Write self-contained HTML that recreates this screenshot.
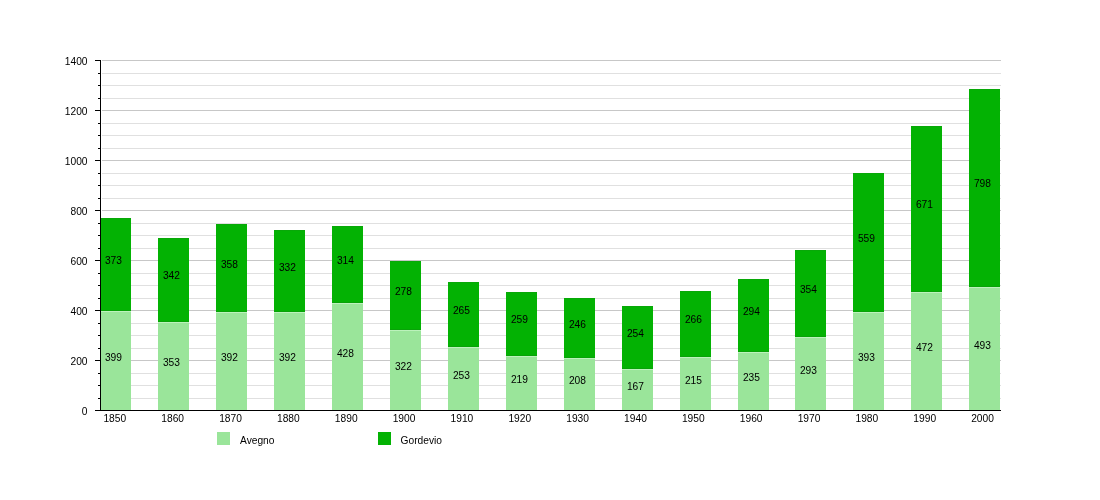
<!DOCTYPE html><html><head><meta charset="utf-8"><title>Avegno Gordevio</title><style>html,body{margin:0;padding:0;background:#fff}svg{display:block}text{font-family:"Liberation Sans",Arial,Helvetica,sans-serif;font-size:11px;fill:#000}</style></head><body>
<svg width="1100" height="500" viewBox="0 0 1100 500">
<rect width="1100" height="500" fill="#fff"/>
<rect x="102" y="398" width="899" height="1" fill="#e0e0e0"/>
<rect x="102" y="385" width="899" height="1" fill="#e0e0e0"/>
<rect x="102" y="373" width="899" height="1" fill="#e0e0e0"/>
<rect x="102" y="360" width="899" height="1" fill="#c7c7c7"/>
<rect x="102" y="348" width="899" height="1" fill="#e0e0e0"/>
<rect x="102" y="335" width="899" height="1" fill="#e0e0e0"/>
<rect x="102" y="323" width="899" height="1" fill="#e0e0e0"/>
<rect x="102" y="310" width="899" height="1" fill="#c7c7c7"/>
<rect x="102" y="298" width="899" height="1" fill="#e0e0e0"/>
<rect x="102" y="285" width="899" height="1" fill="#e0e0e0"/>
<rect x="102" y="273" width="899" height="1" fill="#e0e0e0"/>
<rect x="102" y="260" width="899" height="1" fill="#c7c7c7"/>
<rect x="102" y="248" width="899" height="1" fill="#e0e0e0"/>
<rect x="102" y="235" width="899" height="1" fill="#e0e0e0"/>
<rect x="102" y="223" width="899" height="1" fill="#e0e0e0"/>
<rect x="102" y="210" width="899" height="1" fill="#c7c7c7"/>
<rect x="102" y="198" width="899" height="1" fill="#e0e0e0"/>
<rect x="102" y="185" width="899" height="1" fill="#e0e0e0"/>
<rect x="102" y="173" width="899" height="1" fill="#e0e0e0"/>
<rect x="102" y="160" width="899" height="1" fill="#c7c7c7"/>
<rect x="102" y="148" width="899" height="1" fill="#e0e0e0"/>
<rect x="102" y="135" width="899" height="1" fill="#e0e0e0"/>
<rect x="102" y="123" width="899" height="1" fill="#e0e0e0"/>
<rect x="102" y="110" width="899" height="1" fill="#c7c7c7"/>
<rect x="102" y="98" width="899" height="1" fill="#e0e0e0"/>
<rect x="102" y="85" width="899" height="1" fill="#e0e0e0"/>
<rect x="102" y="73" width="899" height="1" fill="#e0e0e0"/>
<rect x="102" y="60" width="899" height="1" fill="#c7c7c7"/>
<rect x="101" y="311" width="30" height="99" fill="#9ae59a"/>
<rect x="101" y="218" width="30" height="93" fill="#03b203"/>
<rect x="101" y="311" width="30" height="1" fill="#bcf2bc"/>
<rect x="101" y="310" width="30" height="1" fill="#08a208"/>
<rect x="101" y="218" width="30" height="1" fill="#08a808"/>
<text transform="translate(113.40,361.00) scale(0.93,1)" text-anchor="middle">399</text>
<text transform="translate(113.40,264.00) scale(0.93,1)" text-anchor="middle">373</text>
<text transform="translate(114.80,422.00) scale(0.93,1)" text-anchor="middle">1850</text>
<rect x="158" y="322" width="31" height="88" fill="#9ae59a"/>
<rect x="158" y="238" width="31" height="84" fill="#03b203"/>
<rect x="158" y="322" width="31" height="1" fill="#bcf2bc"/>
<rect x="158" y="321" width="31" height="1" fill="#08a208"/>
<rect x="158" y="238" width="31" height="1" fill="#08a808"/>
<text transform="translate(171.40,366.00) scale(0.93,1)" text-anchor="middle">353</text>
<text transform="translate(171.40,279.00) scale(0.93,1)" text-anchor="middle">342</text>
<text transform="translate(172.65,422.00) scale(0.93,1)" text-anchor="middle">1860</text>
<rect x="216" y="312" width="31" height="98" fill="#9ae59a"/>
<rect x="216" y="224" width="31" height="88" fill="#03b203"/>
<rect x="216" y="312" width="31" height="1" fill="#bcf2bc"/>
<rect x="216" y="311" width="31" height="1" fill="#08a208"/>
<rect x="216" y="224" width="31" height="1" fill="#08a808"/>
<text transform="translate(229.40,361.00) scale(0.93,1)" text-anchor="middle">392</text>
<text transform="translate(229.40,268.00) scale(0.93,1)" text-anchor="middle">358</text>
<text transform="translate(230.50,422.00) scale(0.93,1)" text-anchor="middle">1870</text>
<rect x="274" y="312" width="31" height="98" fill="#9ae59a"/>
<rect x="274" y="230" width="31" height="82" fill="#03b203"/>
<rect x="274" y="312" width="31" height="1" fill="#bcf2bc"/>
<rect x="274" y="311" width="31" height="1" fill="#08a208"/>
<rect x="274" y="230" width="31" height="1" fill="#08a808"/>
<text transform="translate(287.40,361.00) scale(0.93,1)" text-anchor="middle">392</text>
<text transform="translate(287.40,271.00) scale(0.93,1)" text-anchor="middle">332</text>
<text transform="translate(288.35,422.00) scale(0.93,1)" text-anchor="middle">1880</text>
<rect x="332" y="303" width="31" height="107" fill="#9ae59a"/>
<rect x="332" y="226" width="31" height="77" fill="#03b203"/>
<rect x="332" y="303" width="31" height="1" fill="#bcf2bc"/>
<rect x="332" y="302" width="31" height="1" fill="#08a208"/>
<rect x="332" y="226" width="31" height="1" fill="#08a808"/>
<text transform="translate(345.40,357.00) scale(0.93,1)" text-anchor="middle">428</text>
<text transform="translate(345.40,264.00) scale(0.93,1)" text-anchor="middle">314</text>
<text transform="translate(346.20,422.00) scale(0.93,1)" text-anchor="middle">1890</text>
<rect x="390" y="330" width="31" height="80" fill="#9ae59a"/>
<rect x="390" y="261" width="31" height="69" fill="#03b203"/>
<rect x="390" y="330" width="31" height="1" fill="#bcf2bc"/>
<rect x="390" y="329" width="31" height="1" fill="#08a208"/>
<rect x="390" y="261" width="31" height="1" fill="#08a808"/>
<text transform="translate(403.40,370.00) scale(0.93,1)" text-anchor="middle">322</text>
<text transform="translate(403.40,295.00) scale(0.93,1)" text-anchor="middle">278</text>
<text transform="translate(404.05,422.00) scale(0.93,1)" text-anchor="middle">1900</text>
<rect x="448" y="347" width="31" height="63" fill="#9ae59a"/>
<rect x="448" y="282" width="31" height="65" fill="#03b203"/>
<rect x="448" y="347" width="31" height="1" fill="#bcf2bc"/>
<rect x="448" y="346" width="31" height="1" fill="#08a208"/>
<rect x="448" y="282" width="31" height="1" fill="#08a808"/>
<text transform="translate(461.40,379.00) scale(0.93,1)" text-anchor="middle">253</text>
<text transform="translate(461.40,314.00) scale(0.93,1)" text-anchor="middle">265</text>
<text transform="translate(461.90,422.00) scale(0.93,1)" text-anchor="middle">1910</text>
<rect x="506" y="356" width="31" height="54" fill="#9ae59a"/>
<rect x="506" y="292" width="31" height="64" fill="#03b203"/>
<rect x="506" y="356" width="31" height="1" fill="#bcf2bc"/>
<rect x="506" y="355" width="31" height="1" fill="#08a208"/>
<rect x="506" y="292" width="31" height="1" fill="#08a808"/>
<text transform="translate(519.40,383.00) scale(0.93,1)" text-anchor="middle">219</text>
<text transform="translate(519.40,323.00) scale(0.93,1)" text-anchor="middle">259</text>
<text transform="translate(519.75,422.00) scale(0.93,1)" text-anchor="middle">1920</text>
<rect x="564" y="358" width="31" height="52" fill="#9ae59a"/>
<rect x="564" y="298" width="31" height="60" fill="#03b203"/>
<rect x="564" y="358" width="31" height="1" fill="#bcf2bc"/>
<rect x="564" y="357" width="31" height="1" fill="#08a208"/>
<rect x="564" y="298" width="31" height="1" fill="#08a808"/>
<text transform="translate(577.40,384.00) scale(0.93,1)" text-anchor="middle">208</text>
<text transform="translate(577.40,328.00) scale(0.93,1)" text-anchor="middle">246</text>
<text transform="translate(577.60,422.00) scale(0.93,1)" text-anchor="middle">1930</text>
<rect x="622" y="369" width="31" height="41" fill="#9ae59a"/>
<rect x="622" y="306" width="31" height="63" fill="#03b203"/>
<rect x="622" y="369" width="31" height="1" fill="#bcf2bc"/>
<rect x="622" y="368" width="31" height="1" fill="#08a208"/>
<rect x="622" y="306" width="31" height="1" fill="#08a808"/>
<text transform="translate(635.40,390.00) scale(0.93,1)" text-anchor="middle">167</text>
<text transform="translate(635.40,337.00) scale(0.93,1)" text-anchor="middle">254</text>
<text transform="translate(635.45,422.00) scale(0.93,1)" text-anchor="middle">1940</text>
<rect x="680" y="357" width="31" height="53" fill="#9ae59a"/>
<rect x="680" y="291" width="31" height="66" fill="#03b203"/>
<rect x="680" y="357" width="31" height="1" fill="#bcf2bc"/>
<rect x="680" y="356" width="31" height="1" fill="#08a208"/>
<rect x="680" y="291" width="31" height="1" fill="#08a808"/>
<text transform="translate(693.40,384.00) scale(0.93,1)" text-anchor="middle">215</text>
<text transform="translate(693.40,323.00) scale(0.93,1)" text-anchor="middle">266</text>
<text transform="translate(693.30,422.00) scale(0.93,1)" text-anchor="middle">1950</text>
<rect x="738" y="352" width="31" height="58" fill="#9ae59a"/>
<rect x="738" y="279" width="31" height="73" fill="#03b203"/>
<rect x="738" y="352" width="31" height="1" fill="#bcf2bc"/>
<rect x="738" y="351" width="31" height="1" fill="#08a208"/>
<rect x="738" y="279" width="31" height="1" fill="#08a808"/>
<text transform="translate(751.40,381.00) scale(0.93,1)" text-anchor="middle">235</text>
<text transform="translate(751.40,315.00) scale(0.93,1)" text-anchor="middle">294</text>
<text transform="translate(751.15,422.00) scale(0.93,1)" text-anchor="middle">1960</text>
<rect x="795" y="337" width="31" height="73" fill="#9ae59a"/>
<rect x="795" y="250" width="31" height="87" fill="#03b203"/>
<rect x="795" y="337" width="31" height="1" fill="#bcf2bc"/>
<rect x="795" y="336" width="31" height="1" fill="#08a208"/>
<rect x="795" y="250" width="31" height="1" fill="#08a808"/>
<text transform="translate(808.40,374.00) scale(0.93,1)" text-anchor="middle">293</text>
<text transform="translate(808.40,293.00) scale(0.93,1)" text-anchor="middle">354</text>
<text transform="translate(809.00,422.00) scale(0.93,1)" text-anchor="middle">1970</text>
<rect x="853" y="312" width="31" height="98" fill="#9ae59a"/>
<rect x="853" y="173" width="31" height="139" fill="#03b203"/>
<rect x="853" y="312" width="31" height="1" fill="#bcf2bc"/>
<rect x="853" y="311" width="31" height="1" fill="#08a208"/>
<rect x="853" y="173" width="31" height="1" fill="#08a808"/>
<text transform="translate(866.40,361.00) scale(0.93,1)" text-anchor="middle">393</text>
<text transform="translate(866.40,242.00) scale(0.93,1)" text-anchor="middle">559</text>
<text transform="translate(866.85,422.00) scale(0.93,1)" text-anchor="middle">1980</text>
<rect x="911" y="292" width="31" height="118" fill="#9ae59a"/>
<rect x="911" y="126" width="31" height="166" fill="#03b203"/>
<rect x="911" y="292" width="31" height="1" fill="#bcf2bc"/>
<rect x="911" y="291" width="31" height="1" fill="#08a208"/>
<rect x="911" y="126" width="31" height="1" fill="#08a808"/>
<text transform="translate(924.40,351.00) scale(0.93,1)" text-anchor="middle">472</text>
<text transform="translate(924.40,208.00) scale(0.93,1)" text-anchor="middle">671</text>
<text transform="translate(924.70,422.00) scale(0.93,1)" text-anchor="middle">1990</text>
<rect x="969" y="287" width="31" height="123" fill="#9ae59a"/>
<rect x="969" y="89" width="31" height="198" fill="#03b203"/>
<rect x="969" y="287" width="31" height="1" fill="#bcf2bc"/>
<rect x="969" y="286" width="31" height="1" fill="#08a208"/>
<rect x="969" y="89" width="31" height="1" fill="#08a808"/>
<text transform="translate(982.40,349.00) scale(0.93,1)" text-anchor="middle">493</text>
<text transform="translate(982.40,187.00) scale(0.93,1)" text-anchor="middle">798</text>
<text transform="translate(982.55,422.00) scale(0.93,1)" text-anchor="middle">2000</text>
<rect x="100" y="60" width="1" height="351" fill="#000"/>
<rect x="95" y="410" width="906" height="1" fill="#000"/>
<rect x="95" y="410" width="5" height="1" fill="#000"/>
<text transform="translate(87.50,415.00) scale(0.93,1)" text-anchor="end">0</text>
<rect x="98" y="398" width="2" height="1" fill="#000"/>
<rect x="98" y="385" width="2" height="1" fill="#000"/>
<rect x="98" y="373" width="2" height="1" fill="#000"/>
<rect x="95" y="360" width="5" height="1" fill="#000"/>
<text transform="translate(87.50,365.00) scale(0.93,1)" text-anchor="end">200</text>
<rect x="98" y="348" width="2" height="1" fill="#000"/>
<rect x="98" y="335" width="2" height="1" fill="#000"/>
<rect x="98" y="323" width="2" height="1" fill="#000"/>
<rect x="95" y="310" width="5" height="1" fill="#000"/>
<text transform="translate(87.50,315.00) scale(0.93,1)" text-anchor="end">400</text>
<rect x="98" y="298" width="2" height="1" fill="#000"/>
<rect x="98" y="285" width="2" height="1" fill="#000"/>
<rect x="98" y="273" width="2" height="1" fill="#000"/>
<rect x="95" y="260" width="5" height="1" fill="#000"/>
<text transform="translate(87.50,265.00) scale(0.93,1)" text-anchor="end">600</text>
<rect x="98" y="248" width="2" height="1" fill="#000"/>
<rect x="98" y="235" width="2" height="1" fill="#000"/>
<rect x="98" y="223" width="2" height="1" fill="#000"/>
<rect x="95" y="210" width="5" height="1" fill="#000"/>
<text transform="translate(87.50,215.00) scale(0.93,1)" text-anchor="end">800</text>
<rect x="98" y="198" width="2" height="1" fill="#000"/>
<rect x="98" y="185" width="2" height="1" fill="#000"/>
<rect x="98" y="173" width="2" height="1" fill="#000"/>
<rect x="95" y="160" width="5" height="1" fill="#000"/>
<text transform="translate(87.50,165.00) scale(0.93,1)" text-anchor="end">1000</text>
<rect x="98" y="148" width="2" height="1" fill="#000"/>
<rect x="98" y="135" width="2" height="1" fill="#000"/>
<rect x="98" y="123" width="2" height="1" fill="#000"/>
<rect x="95" y="110" width="5" height="1" fill="#000"/>
<text transform="translate(87.50,115.00) scale(0.93,1)" text-anchor="end">1200</text>
<rect x="98" y="98" width="2" height="1" fill="#000"/>
<rect x="98" y="85" width="2" height="1" fill="#000"/>
<rect x="98" y="73" width="2" height="1" fill="#000"/>
<rect x="95" y="60" width="5" height="1" fill="#000"/>
<text transform="translate(87.50,65.00) scale(0.93,1)" text-anchor="end">1400</text>
<rect x="217" y="432" width="13" height="13" fill="#9ae59a"/><text transform="translate(240.00,443.50) scale(0.93,1)" text-anchor="start">Avegno</text>
<rect x="378" y="432" width="13" height="13" fill="#03b203"/><text transform="translate(400.50,443.50) scale(0.93,1)" text-anchor="start">Gordevio</text>
</svg></body></html>
